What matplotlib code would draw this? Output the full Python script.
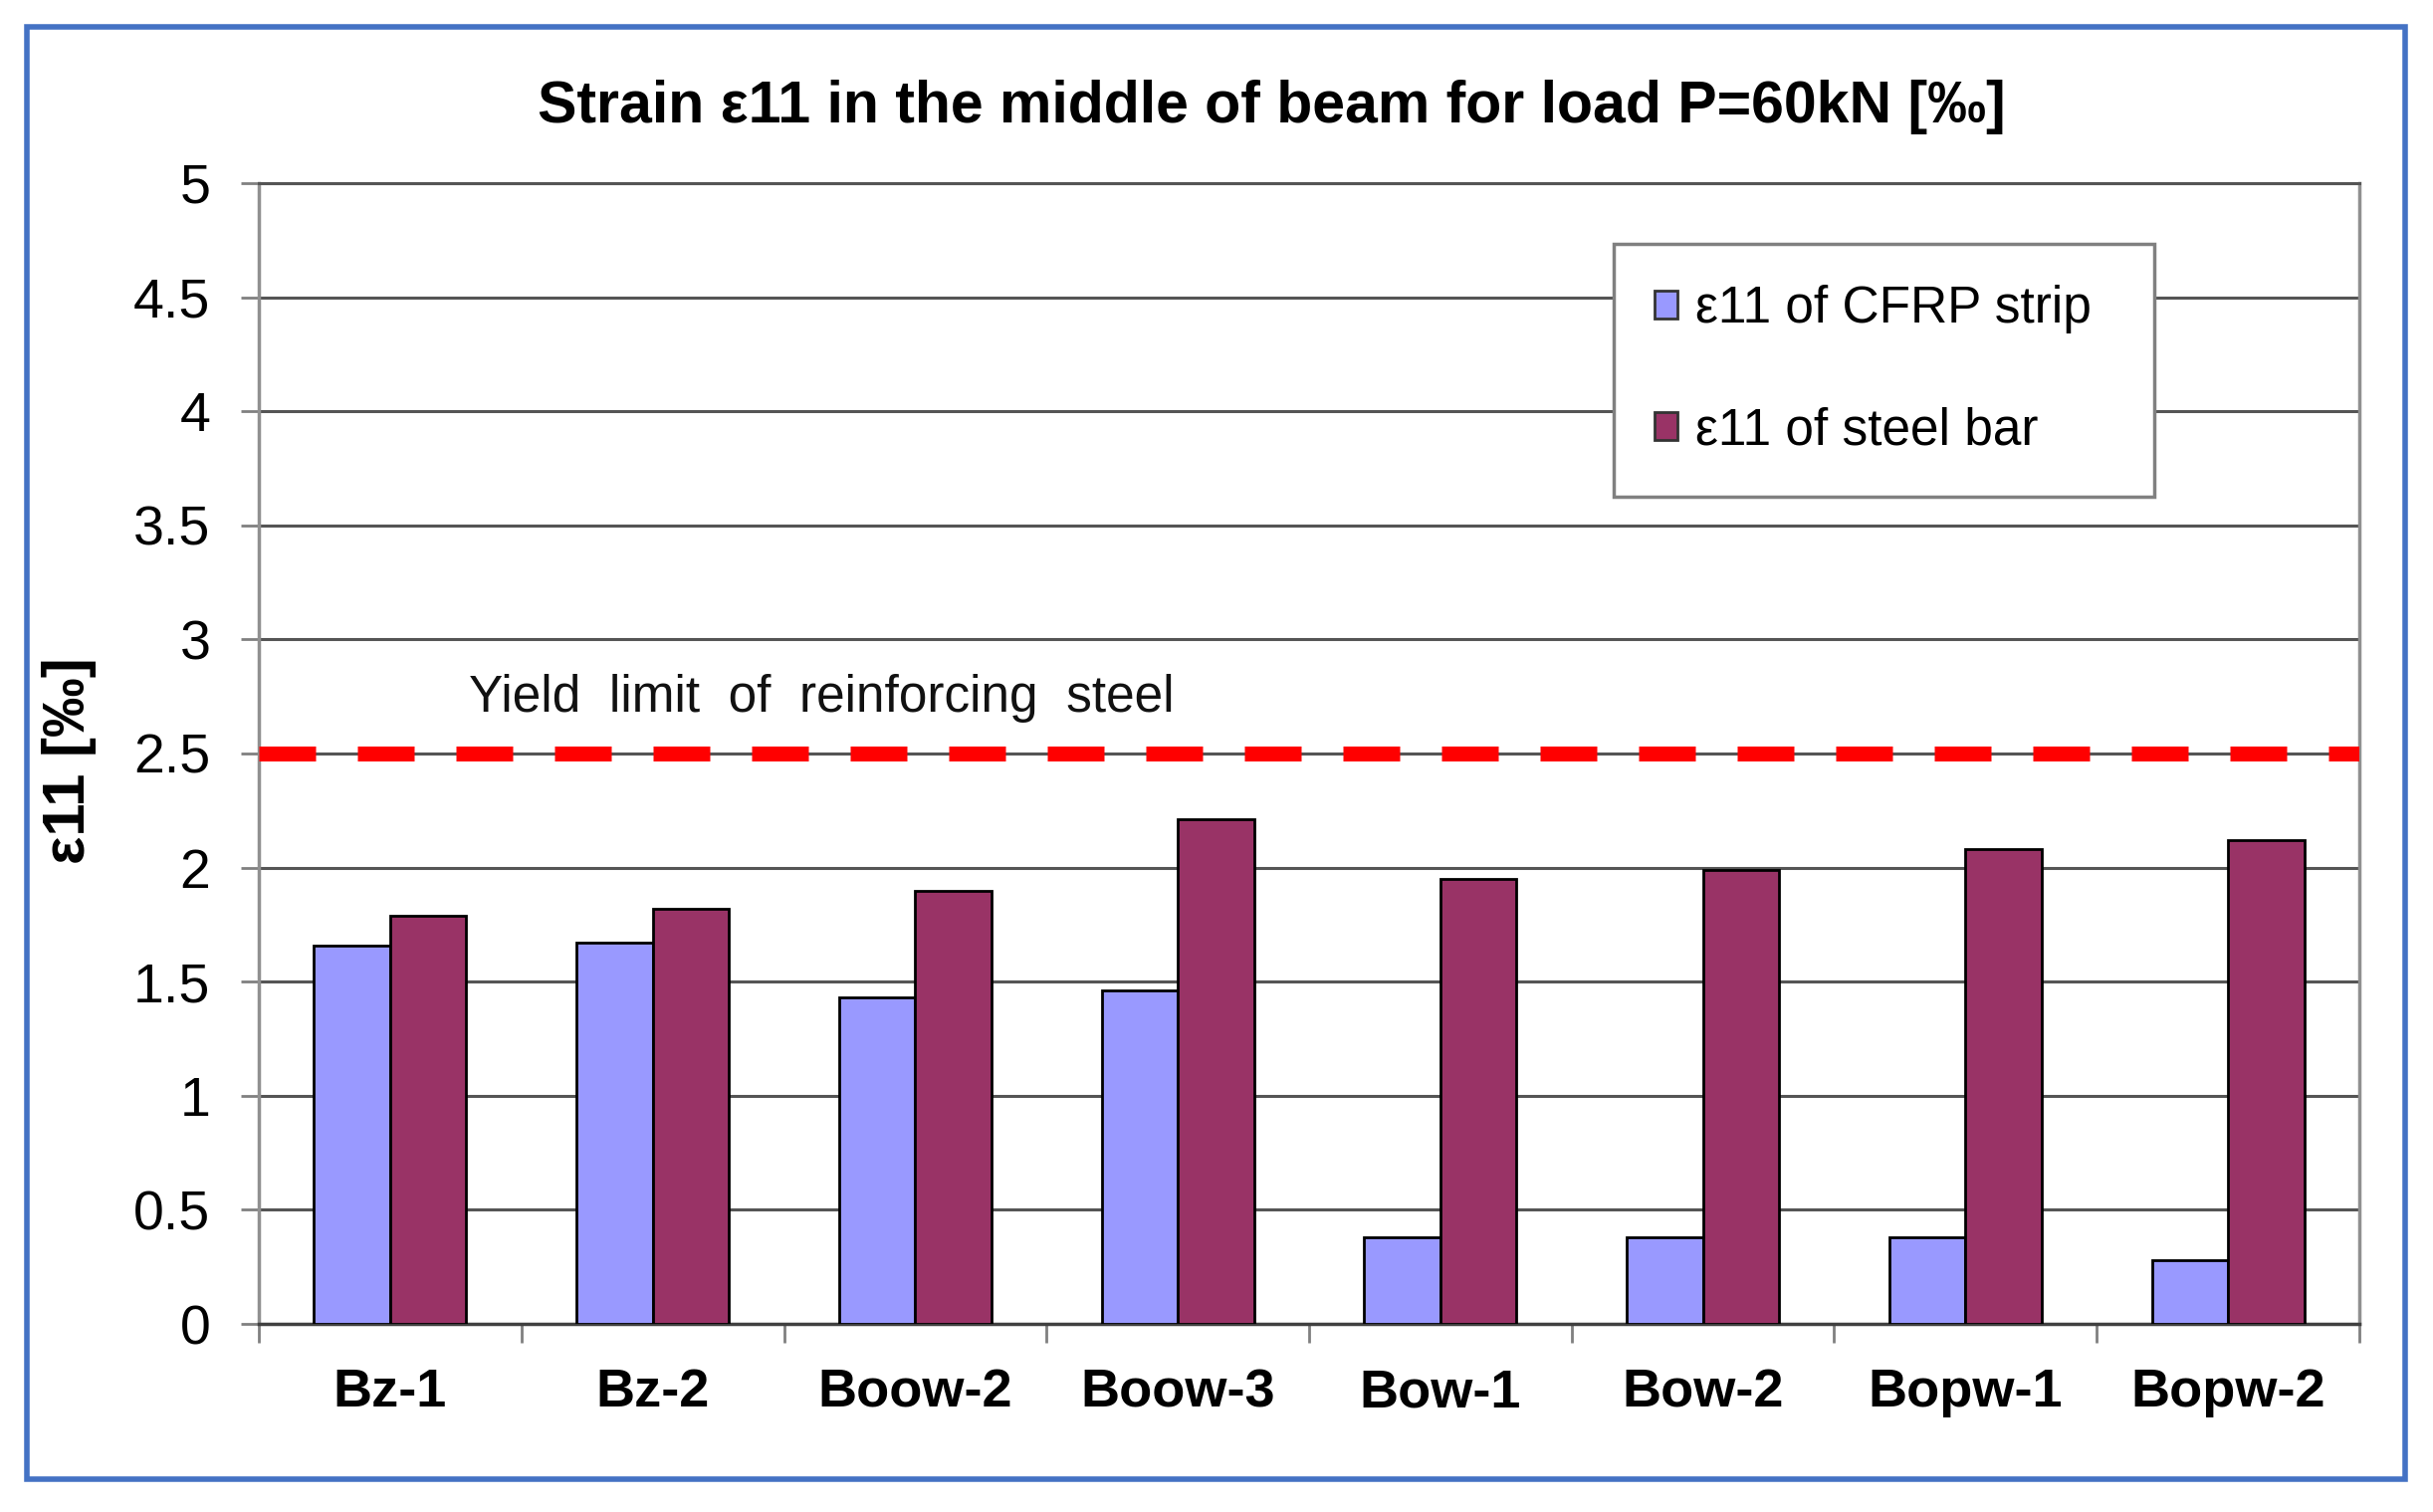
import numpy as np
import matplotlib.pyplot as plt
from matplotlib.patches import Rectangle, Patch
from matplotlib.ticker import FixedLocator, FormatStrFormatter

plt.rcParams["font.family"] = ["Liberation Sans", "DejaVu Sans"]

# data
beams = ["Bz-1", "Bz-2", "Boow-2", "Boow-3", "Bow-1", "Bow-2", "Bopw-1", "Bopw-2"]
cfrp_strain = [1.66, 1.67, 1.43, 1.46, 0.38, 0.38, 0.38, 0.28]
steel_strain = [1.79, 1.82, 1.90, 2.21, 1.95, 1.99, 2.08, 2.12]
yield_limit = 2.5
legend_labels = ["ε11 of CFRP strip", "ε11 of steel bar"]

blue = "#9999FF"
plum = "#993366"

fig = plt.figure(figsize=(24.44, 15.19), dpi=100)
ax = fig.add_axes([0.1064, 0.1244, 0.8633, 0.7545])

x = np.arange(len(beams))
w = 0.29
ax.bar(x - w / 2, cfrp_strain, w, color=blue, edgecolor="black", linewidth=2, zorder=3)
ax.bar(x + w / 2, steel_strain, w, color=plum, edgecolor="black", linewidth=2, zorder=3)

# yield line
ax.axhline(yield_limit, color="#FF0000", linewidth=10.8, dashes=(3.8, 2.8),
           dash_capstyle="butt", zorder=4)
ax.text(0.3, 2.74, "Yield  limit  of  reinforcing  steel", fontsize=37,
        va="center", ha="left", color="#111111")

ax.set_xlim(-0.5, len(beams) - 0.5)
ax.set_ylim(0, 5)
ax.set_yticks(np.arange(0, 5.01, 0.5))
ax.yaxis.set_major_formatter(FormatStrFormatter("%g"))
ax.yaxis.grid(True, color="#555555", linewidth=2.2)
ax.set_axisbelow(True)

# category ticks between groups, labels at centres
ax.xaxis.set_major_locator(FixedLocator(np.arange(-0.5, len(beams), 1.0)))
ax.xaxis.set_minor_locator(FixedLocator(x))
ax.set_xticklabels([], minor=False)
ax.set_xticklabels(beams, minor=True, fontsize=39, fontweight="bold")
ax.tick_params(axis="x", which="major", length=14, width=2, color="#808080")
ax.tick_params(axis="x", which="minor", length=0, pad=32)
ax.tick_params(axis="y", length=13, width=2, color="#808080", labelsize=40, pad=22)

for side in ["left", "right"]:
    ax.spines[side].set_color("#909090")
    ax.spines[side].set_linewidth(2.5)
ax.spines["bottom"].set_color("#404040")
ax.spines["bottom"].set_linewidth(2.5)
ax.spines["top"].set_color("#555555")
ax.spines["top"].set_linewidth(2.2)

ax.set_ylabel("ε11 [‰]", fontsize=43, fontweight="bold")
ax.yaxis.set_label_coords(-0.0774, 0.494)

fig.text(0.5225, 0.929, "Strain ε11 in the middle of beam for load P=60kN [‰]",
         fontsize=42.5, fontweight="bold", ha="center", va="center")

handles = [Patch(facecolor=blue, edgecolor="#333333", linewidth=2),
           Patch(facecolor=plum, edgecolor="#333333", linewidth=2)]
leg = ax.legend(handles, legend_labels, loc="upper left",
                bbox_to_anchor=(1621 / 2444, 1 - 491 / 1519, 543 / 2444, 246 / 1519),
                bbox_transform=fig.transFigure, mode="expand", borderaxespad=0,
                fontsize=37, handlelength=0.45, handleheight=0.45, handletextpad=0.35,
                labelspacing=1.43, borderpad=0.8, fancybox=False, framealpha=1)
leg.get_frame().set_edgecolor("#808080")
leg.get_frame().set_linewidth(2.5)
leg.set_zorder(6)

# outer blue border
fig.patches.append(Rectangle((0.011, 0.0217), 0.9776, 0.9605, transform=fig.transFigure,
                             fill=False, edgecolor="#4472C4", linewidth=4))

fig.savefig("out.png", dpi=100)
